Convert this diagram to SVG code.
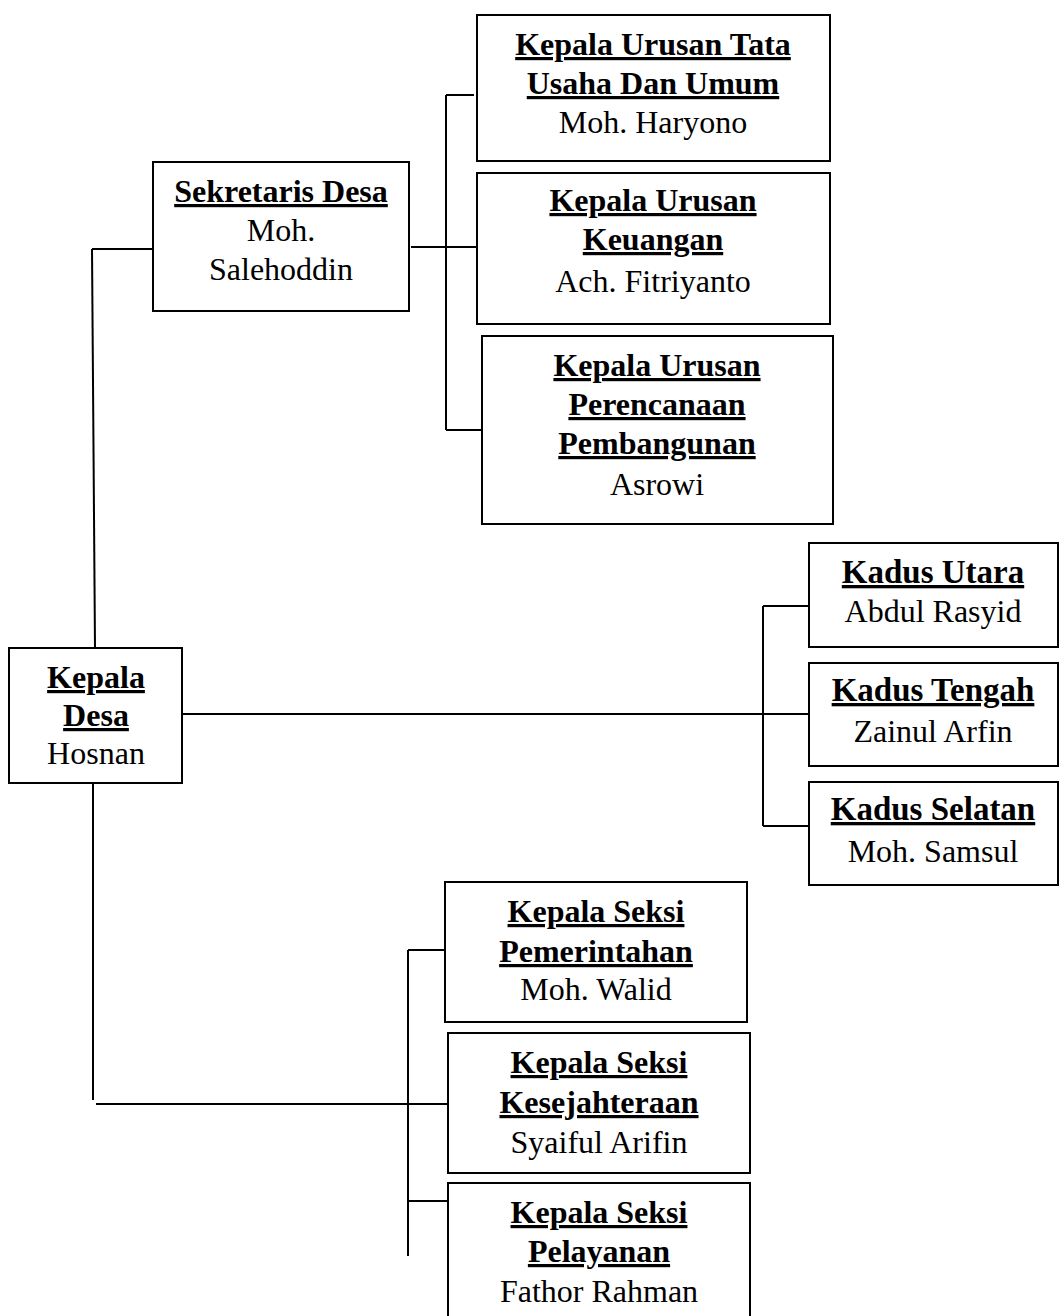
<svg xmlns="http://www.w3.org/2000/svg" width="1059" height="1316" viewBox="0 0 1059 1316">
<style>
  .box { fill: #ffffff; stroke: #000000; stroke-width: 2; }
  .conn line { stroke: #000000; stroke-width: 2; }
  text { font-family: "Liberation Serif", "Times New Roman", serif; font-size: 32px; fill: #000000; text-anchor: middle; }
  .t { font-weight: bold; text-decoration: underline; }
  .k { font-size: 33px; }
</style>
<rect width="1059" height="1316" fill="#ffffff"/>
<g id="connectors" class="conn">
  <line x1="92" y1="249" x2="153" y2="249"/>
  <line x1="92" y1="249" x2="95" y2="648"/>
  <line x1="411" y1="247" x2="477" y2="247"/>
  <line x1="446" y1="95" x2="446" y2="430"/>
  <line x1="446" y1="95" x2="474" y2="95"/>
  <line x1="446" y1="430" x2="482" y2="430"/>
  <line x1="182" y1="714" x2="809" y2="714"/>
  <line x1="763" y1="606" x2="763" y2="826"/>
  <line x1="763" y1="606" x2="809" y2="606"/>
  <line x1="763" y1="826" x2="809" y2="826"/>
  <line x1="93" y1="783" x2="93" y2="1100"/>
  <line x1="96" y1="1104" x2="448" y2="1104"/>
  <line x1="408" y1="950" x2="408" y2="1256"/>
  <line x1="408" y1="950" x2="445" y2="950"/>
  <line x1="408" y1="1201" x2="448" y2="1201"/>
</g>
<g id="kepala-desa">
  <rect class="box" x="9" y="648" width="173" height="135"/>
  <text class="t" x="96" y="688">Kepala</text>
  <text class="t" x="96" y="726">Desa</text>
  <text x="96" y="764">Hosnan</text>
</g>
<g id="sekretaris-desa">
  <rect class="box" x="153" y="162" width="256" height="149"/>
  <text class="t" x="281" y="202">Sekretaris Desa</text>
  <text x="281" y="241">Moh.</text>
  <text x="281" y="280">Salehoddin</text>
</g>
<g id="kaur-tu">
  <rect class="box" x="477" y="15" width="353" height="146"/>
  <text class="t" x="653" y="55">Kepala Urusan Tata</text>
  <text class="t" x="653" y="94">Usaha Dan Umum</text>
  <text x="653" y="133">Moh. Haryono</text>
</g>
<g id="kaur-keuangan">
  <rect class="box" x="477" y="173" width="353" height="151"/>
  <text class="t" x="653" y="211">Kepala Urusan</text>
  <text class="t" x="653" y="250">Keuangan</text>
  <text x="653" y="292">Ach. Fitriyanto</text>
</g>
<g id="kaur-perencanaan">
  <rect class="box" x="482" y="336" width="351" height="188"/>
  <text class="t" x="657" y="376">Kepala Urusan</text>
  <text class="t" x="657" y="415">Perencanaan</text>
  <text class="t" x="657" y="454">Pembangunan</text>
  <text x="657" y="495">Asrowi</text>
</g>
<g id="kadus-utara">
  <rect class="box" x="809" y="543" width="249" height="104"/>
  <text class="t k" x="933" y="583">Kadus Utara</text>
  <text x="933" y="622">Abdul Rasyid</text>
</g>
<g id="kadus-tengah">
  <rect class="box" x="809" y="663" width="249" height="103"/>
  <text class="t k" x="933" y="701">Kadus Tengah</text>
  <text x="933" y="742">Zainul Arfin</text>
</g>
<g id="kadus-selatan">
  <rect class="box" x="809" y="782" width="249" height="103"/>
  <text class="t k" x="933" y="820">Kadus Selatan</text>
  <text x="933" y="862">Moh. Samsul</text>
</g>
<g id="kasi-pemerintahan">
  <rect class="box" x="445" y="882" width="302" height="140"/>
  <text class="t" x="596" y="922">Kepala Seksi</text>
  <text class="t" x="596" y="962">Pemerintahan</text>
  <text x="596" y="1000">Moh. Walid</text>
</g>
<g id="kasi-kesejahteraan">
  <rect class="box" x="448" y="1033" width="302" height="140"/>
  <text class="t" x="599" y="1073">Kepala Seksi</text>
  <text class="t" x="599" y="1113">Kesejahteraan</text>
  <text x="599" y="1153">Syaiful Arifin</text>
</g>
<g id="kasi-pelayanan">
  <rect class="box" x="448" y="1183" width="302" height="145"/>
  <text class="t" x="599" y="1223">Kepala Seksi</text>
  <text class="t" x="599" y="1262">Pelayanan</text>
  <text x="599" y="1302">Fathor Rahman</text>
</g>
</svg>
